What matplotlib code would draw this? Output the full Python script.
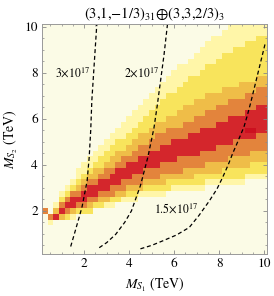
import numpy as np
import matplotlib
matplotlib.use("Agg")
import matplotlib.pyplot as plt
from matplotlib.colors import ListedColormap, BoundaryNorm

plt.rcParams['font.family'] = ['STIXGeneral', 'DejaVu Serif']
plt.rcParams['mathtext.fontset'] = 'stix'

# cell grid: 40 x 40 cells of 0.25 TeV, centres at 0.25 ... 10
CELL = 0.25
NCELL = 40

# band extents per column (row index k, y = 0.25*k)
# 0 means the band is absent in that column
red_lo = [0, 0, 7, 8, 9, 9, 10, 10, 11, 11, 12, 12, 13, 13, 14, 14, 15, 15, 16, 16,
          16, 17, 17, 17, 18, 18, 18, 18, 19, 19, 19, 20, 20, 20, 21, 21, 21, 21, 22, 22]
red_hi = [0, 0, 7, 8, 9, 10, 10, 11, 12, 12, 13, 13, 14, 15, 15, 16, 16, 17, 17, 18,
          18, 19, 19, 20, 20, 20, 21, 21, 22, 22, 22, 23, 23, 24, 24, 24, 25, 25, 26, 26]
orange_lo = [8, 7, 0, 8, 8, 9, 9, 9, 10, 10, 11, 11, 11, 12, 12, 13, 13, 13, 14, 14,
             14, 15, 15, 15, 15, 16, 16, 16, 16, 17, 17, 17, 17, 18, 18, 18, 18, 19, 19, 19]
orange_hi = [8, 7, 0, 9, 10, 11, 11, 12, 13, 13, 14, 15, 15, 16, 17, 17, 18, 19, 19, 20,
             21, 21, 22, 22, 22, 23, 23, 24, 24, 25, 25, 26, 26, 27, 27, 27, 28, 28, 29, 29]
gold_lo = [0, 0, 7, 7, 8, 8, 9, 9, 9, 10, 10, 10, 11, 11, 11, 12, 12, 12, 13, 13,
           13, 13, 14, 14, 14, 14, 14, 15, 15, 15, 15, 15, 16, 16, 16, 16, 16, 17, 17, 17]
gold_hi = [0, 0, 8, 9, 10, 11, 12, 13, 14, 15, 15, 16, 17, 18, 18, 19, 20, 21, 21, 22,
           23, 23, 24, 24, 25, 26, 26, 27, 27, 28, 28, 28, 29, 29, 29, 30, 30, 30, 31, 31]
yellow_lo = [0, 0, 0, 7, 7, 8, 8, 8, 8, 9, 9, 10, 10, 10, 11, 11, 11, 12, 12, 12,
             12, 12, 12, 13, 13, 13, 13, 13, 13, 14, 14, 14, 14, 14, 14, 14, 15, 15, 15, 15]
yellow_hi = [0, 0, 0, 10, 11, 12, 13, 14, 15, 16, 17, 18, 19, 20, 20, 21, 22, 23, 24, 25,
             26, 27, 28, 28, 29, 30, 31, 31, 32, 33, 33, 34, 35, 35, 36, 36, 37, 37, 38, 38]
light_lo = [0, 6, 7, 7, 7, 7, 8, 8, 8, 9, 9, 9, 9, 10, 10, 10, 10, 11, 11, 11,
            11, 11, 12, 12, 12, 12, 12, 12, 12, 13, 13, 13, 13, 13, 13, 13, 14, 14, 14, 14]
light_hi = [0, 6, 9, 11, 12, 13, 15, 16, 17, 18, 19, 20, 21, 22, 23, 24, 25, 26, 27, 28,
            29, 30, 31, 32, 33, 33, 34, 35, 36, 37, 38, 38, 39, 40, 40, 40, 40, 40, 40, 40]

# darkest cells (maximum)
peak_x = [9.25, 9.5]
peak_y = [5.5, 5.5]

# dashed contours
curve_a_x = [1.40, 1.55, 1.69, 1.80, 1.91, 2.02, 2.13, 2.22, 2.29, 2.34, 2.44, 2.56]
curve_a_y = [0.45, 0.95, 1.43, 1.80, 2.20, 2.75, 3.30, 4.30, 5.50, 6.80, 8.30, 10.1]
curve_b_x = [2.67, 3.00, 3.40, 3.80, 4.10, 4.30, 4.50, 4.67, 4.82, 4.95, 5.10, 5.25, 5.40, 5.55, 5.70]
curve_b_y = [0.40, 0.62, 0.98, 1.50, 2.00, 2.55, 3.10, 3.74, 4.30, 4.90, 5.60, 6.60, 7.70, 8.80, 10.1]
curve_c_x = [4.50, 5.00, 5.50, 6.10, 6.67, 7.10, 7.56, 7.90, 8.15, 8.40, 8.60, 8.80, 8.95,
             9.10, 9.25, 9.40, 9.55, 9.70, 9.85, 10.05]
curve_c_y = [0.35, 0.50, 0.70, 0.95, 1.28, 1.80, 2.43, 2.95, 3.45, 4.00, 4.50, 4.95, 5.30,
             5.65, 6.15, 6.70, 7.30, 7.90, 8.50, 9.30]

labels = [r'$3{\times}10^{17}$', r'$2{\times}10^{17}$', r'$1.5{\times}10^{17}$']
label_x = [1.5, 4.55, 6.1]
label_y = [8.0, 8.0, 2.08]

colors = ['#fbfbe6', '#fff6a8', '#f8e45c', '#efbd48', '#e3843c', '#d4262c', '#cc1020']

# build the level grid
bands = [(light_lo, light_hi), (yellow_lo, yellow_hi), (gold_lo, gold_hi),
         (orange_lo, orange_hi), (red_lo, red_hi)]
grid = np.zeros((NCELL, NCELL))
for j in range(NCELL):
    for k in range(1, NCELL + 1):
        lvl = 0
        for L, (lo, hi) in enumerate(bands, start=1):
            if lo[j] > 0 and lo[j] <= k <= hi[j]:
                lvl = L
        grid[k - 1, j] = lvl
for px, py in zip(peak_x, peak_y):
    grid[int(round(py / CELL)) - 1, int(round(px / CELL)) - 1] = 6

edges = CELL * (np.arange(NCELL + 1) + 0.5)

fig = plt.figure(figsize=(2.74, 2.96), dpi=100)
ax = fig.add_axes([42 / 274, 1 - 254 / 296, 225 / 274, 230 / 296])

cmap = ListedColormap(colors)
norm = BoundaryNorm(np.arange(-0.5, 7.5, 1), cmap.N)
ax.pcolormesh(edges, edges, grid, cmap=cmap, norm=norm, shading='flat')

for cx, cy in [(curve_a_x, curve_a_y), (curve_b_x, curve_b_y), (curve_c_x, curve_c_y)]:
    ax.plot(cx, cy, color='black', lw=0.9, dashes=(3.2, 2.2))

for t, tx, ty in zip(labels, label_x, label_y):
    ax.text(tx, ty, t, ha='center', va='center', fontsize=8.5)

ax.set_xlim(edges[0], edges[-1])
ax.set_ylim(edges[0], edges[-1])
ax.set_xticks([2, 4, 6, 8, 10])
ax.set_yticks([2, 4, 6, 8, 10])
ax.set_xticks(np.arange(0.5, 10.1, 0.5), minor=True)
ax.set_yticks(np.arange(0.5, 10.1, 0.5), minor=True)
ax.tick_params(which='both', direction='in', top=True, right=True, color='#888888',
               labelsize=9.5, pad=3)
ax.tick_params(which='major', length=3, width=0.6)
ax.tick_params(which='minor', length=1.6, width=0.5)
for s in ax.spines.values():
    s.set_color('#999999')
    s.set_linewidth(0.7)

ax.set_xlabel(r'$M_{S_1}$ (TeV)', fontsize=10, labelpad=4)
ax.set_ylabel(r'$M_{S_2}$ (TeV)', fontsize=10, labelpad=3)
# braces keep mathtext from padding commas, minus and oplus
ax.set_title(r'$(3{,}1{,}{-}1/3)_{31}{\oplus}(3{,}3{,}2/3)_3$', fontsize=10.5, pad=4)

fig.savefig('out.png', dpi=100)
